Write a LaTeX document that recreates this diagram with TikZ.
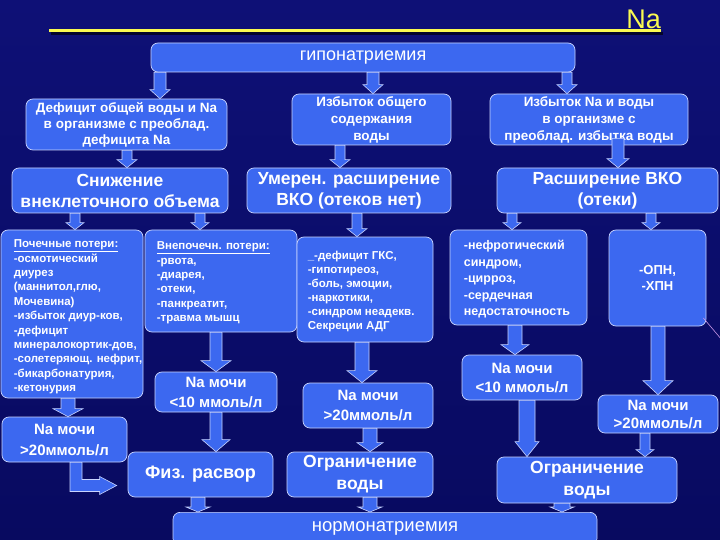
\documentclass[tikz,border=0pt]{standalone}
\usepackage{fontspec}
\setmainfont{Liberation Sans}
\usetikzlibrary{calc}
\definecolor{bgtop}{RGB}{14,16,118}
\definecolor{bgbot}{RGB}{8,10,96}
\definecolor{boxb}{RGB}{60,104,240}
\definecolor{edge}{RGB}{200,212,255}
\definecolor{yel}{RGB}{250,250,80}
\definecolor{pinkl}{RGB}{200,150,230}
\newcommand\fs[2]{\fontsize{#1}{#2}\selectfont}
% block arrow: from node, to node, x, half shaft, half head, head length, start offset
\newcommand\varr[7]{\path[arr] let \p1=(#1.south), \p2=(#2.north) in
 (#3pt-#4pt,\y1+#7pt) -- (#3pt-#4pt,\y2+#6pt) -- (#3pt-#5pt,\y2+#6pt) -- (#3pt,\y2)
 -- (#3pt+#5pt,\y2+#6pt) -- (#3pt+#4pt,\y2+#6pt) -- (#3pt+#4pt,\y1+#7pt) -- cycle;}
\begin{document}
\begin{tikzpicture}[x=1pt,y=-1pt,
  box/.style={draw=edge, fill=boxb, line width=0.7pt, rounded corners=7pt, text=white,
    align=center, inner sep=0pt, font=\bfseries},
  arr/.style={draw=edge, fill=boxb, line width=0.6pt},
  lst/.style={text=white, align=left, inner sep=0pt, anchor=west}]
\useasboundingbox (0,0) rectangle (720,540);
\clip (0,0) rectangle (720,540);
\shade[top color=bgtop, bottom color=bgbot] (0,0) rectangle (720,540);
% title
\node[text=yel, font=\fs{27}{30}, anchor=base east, inner sep=0pt] (na) at (661,29) {Na};
\draw[black!55!bgbot, line width=3pt] (51,34) -- (663,34);
\draw[yel, line width=3pt] (49,31) -- (661,31);
% level 0
\node[box, minimum width=424pt, minimum height=29pt, font=\fs{18}{20}] (top) at (363,57.5) {гипонатриемия};
% level 1
\node[box, minimum width=201pt, minimum height=51pt, font=\bfseries\fs{13.5}{16}] (d1) at (126.5,124.5)
  {Дефицит общей воды и Na\\в организме с преоблад.\\дефицита Na};
\node[box, minimum width=159pt, minimum height=51pt, font=\bfseries\fs{13.5}{17}] (d2) at (371.5,119.5)
  {Избыток общего\\содержания\\воды};
\node[box, minimum width=198pt, minimum height=51pt, font=\bfseries\fs{13.5}{17}] (d3) at (589,119.5)
  {Избыток Na и воды\\в организме с\\преоблад. избытка воды};
% level 2
\node[box, minimum width=216pt, minimum height=45pt, font=\bfseries\fs{17.5}{21}] (e1) at (120,190.5)
  {Снижение\\внеклеточного объема};
\node[box, minimum width=204pt, minimum height=45pt, font=\bfseries\fs{17.5}{21}] (e2) at (349,190.5)
  {Умерен. расширение\\ВКО (отеков нет)};
\node[box, minimum width=221pt, minimum height=45pt, font=\bfseries\fs{17.5}{21}] (e3) at (607.5,190.5)
  {Расширение ВКО\\(отеки)};
% level 3
\node[box, minimum width=142pt, minimum height=168pt] (f1) at (72,314) {};
\node[lst, font=\bfseries\fs{11.5}{14.4}] (f1t) at ([xshift=13pt,yshift=-3pt]f1.west)
  {\underline{Почечные потери:}\\-осмотический\\диурез\\(маннитол,глю,\\Мочевина)\\-избыток диур-ков,\\-дефицит\\минералокортик-дов,\\-солетеряющ. нефрит,\\-бикарбонатурия,\\-кетонурия};
\node[box, minimum width=152pt, minimum height=102pt] (f2) at (221,281) {};
\node[lst, font=\bfseries\fs{11.5}{14.4}] (f2t) at ([xshift=12pt,yshift=-2pt]f2.west)
  {\underline{Внепочечн. потери:}\\-рвота,\\-диарея,\\-отеки,\\-панкреатит,\\-травма мышц};
\node[box, minimum width=136pt, minimum height=105pt] (f3) at (365,289.5) {};
\node[lst, font=\bfseries\fs{11.5}{14}] (f3t) at ([xshift=11pt,yshift=-2pt]f3.west)
  {\_-дефицит ГКС,\\-гипотиреоз,\\-боль, эмоции,\\-наркотики,\\-синдром неадекв.\\Секреции АДГ};
\node[box, minimum width=137pt, minimum height=95pt] (f4) at (518.5,277.5) {};
\node[lst, font=\bfseries\fs{12.5}{16.5}] (f4t) at ([xshift=14pt,yshift=-2pt]f4.west)
  {-нефротический\\синдром,\\-цирроз,\\-сердечная\\недостаточность};
\node[box, minimum width=97pt, minimum height=96pt, font=\bfseries\fs{13}{15.5}] (f5) at (657.5,278)
  {-ОПН,\\-ХПН};
% level 4
\node[box, minimum width=125pt, minimum height=45pt, font=\bfseries\fs{15}{21}] (g1) at (64.5,439.5)
  {Na мочи\\>20ммоль/л};
\node[box, minimum width=122pt, minimum height=40pt, font=\bfseries\fs{15}{20}] (g2) at (216,392)
  {Na мочи\\<10 ммоль/л};
\node[box, minimum width=130pt, minimum height=45pt, font=\bfseries\fs{15}{20}] (g3) at (368,405.5)
  {Na мочи\\>20ммоль/л};
\node[box, minimum width=120pt, minimum height=45pt, font=\bfseries\fs{15}{19}] (g4) at (522,377.5)
  {Na мочи\\<10 ммоль/л};
\node[box, minimum width=120pt, minimum height=38pt, font=\bfseries\fs{15}{18}] (g5) at (658,414)
  {Na мочи\\>20ммоль/л};
% level 5
\node[box, minimum width=145pt, minimum height=45pt, font=\bfseries\fs{18}{21}] (h1) at (200.5,474.5)
  {Физ. расвор};
\node[box, minimum width=146pt, minimum height=45pt, font=\bfseries\fs{17.5}{22}] (h2) at (360,474.5)
  {Ограничение\\воды};
\node[box, minimum width=180pt, minimum height=46pt, font=\bfseries\fs{17.5}{22}] (h3) at (587,480)
  {Ограничение\\воды};
% level 6
\node[box, minimum width=424pt, minimum height=33pt, font=\fs{18.5}{20}, anchor=north] (nrm) at (385,512)
  {\raisebox{-1pt}{нормонатриемия}};
% arrows
\varr{top}{d1}{160}{6}{10}{9}{0}
\varr{top}{d2}{373}{6}{10}{9}{0}
\varr{top}{d3}{567}{5}{10}{9}{0}
\varr{d1}{e1}{127}{5}{10}{8}{0}
\varr{d2}{e2}{340}{5}{10}{8}{0}
\varr{d3}{e3}{618}{6}{11}{9}{7}
\varr{e1}{f1}{75}{5}{9}{7}{0}
\varr{e1}{f2}{200}{5}{9}{7}{0}
\varr{e2}{f3}{357}{5}{10}{8}{0}
\varr{e3}{f4}{512}{5}{9}{7}{0}
\varr{e3}{f5}{651}{5}{9}{7}{0}
\varr{f1}{g1}{68}{7}{15}{8}{0}
\varr{f2}{g2}{216}{6}{15}{11}{0}
\varr{f3}{g3}{362}{7}{15}{12}{0}
\varr{f4}{g4}{515}{7}{14}{10}{0}
\varr{f5}{g5}{658}{7}{15}{14}{0}
\varr{g2}{h1}{216}{6}{14}{12}{0}
\varr{g3}{h2}{370}{7}{13}{9}{0}
\varr{g4}{h3}{527}{8}{12}{15}{0}
\varr{g5}{h3}{645}{5}{9}{7}{0}
\varr{h1}{nrm}{198}{7}{12}{5}{0}
\varr{h2}{nrm}{370}{7}{12}{5}{0}
\varr{h3}{nrm}{562}{8}{12}{5}{0}
% elbow arrow g1 -> h1
\path[arr] let \p1=(g1.south), \p2=($(h1.west)+(0,11)$) in
  (70pt,\y1) -- (70pt,\y2-6pt) -- (\x2-28pt,\y2-6pt) -- (\x2-28pt,\y2-9pt) -- (\x2-11pt,\y2)
  -- (\x2-28pt,\y2+9pt) -- (\x2-28pt,\y2+6pt) -- (82pt,\y2+6pt) -- (82pt,\y1) -- cycle;
% faint line at right
\draw[pinkl, line width=0.6pt] ($(f5.east)+(-3,40)$) -- (722,340);
\end{tikzpicture}
\end{document}
